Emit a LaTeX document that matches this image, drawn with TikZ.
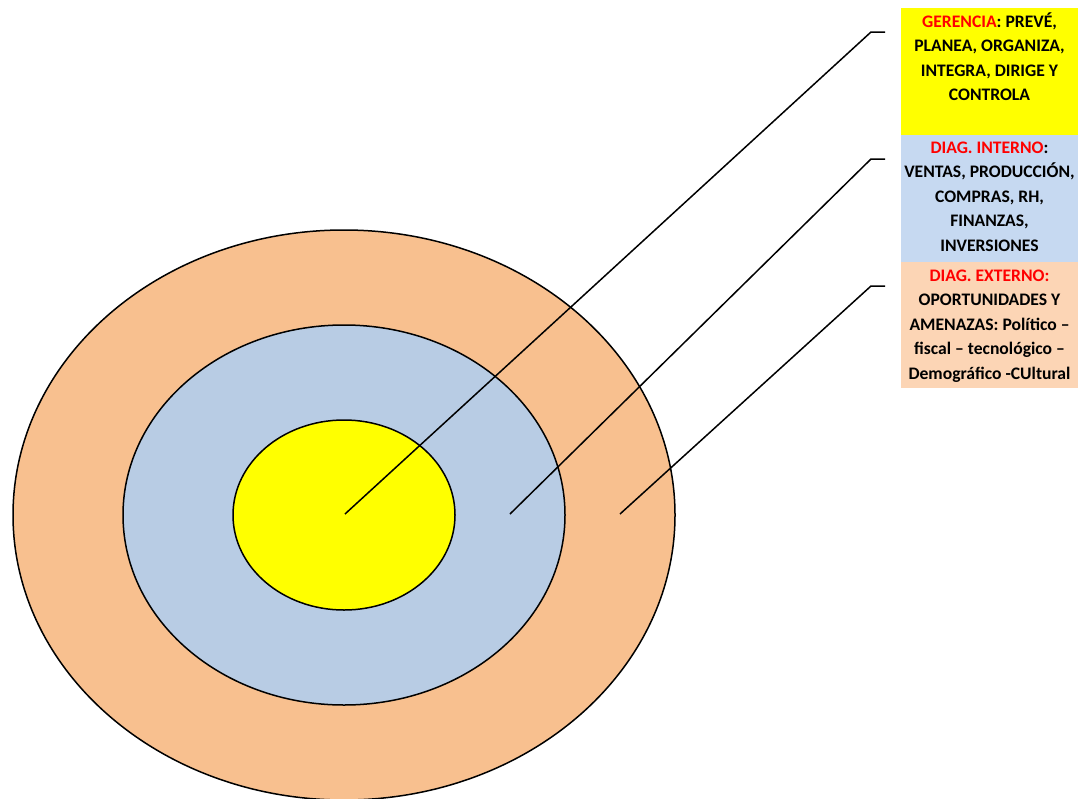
\documentclass[tikz,border=0pt]{standalone}
\usepackage{fontspec}
\setmainfont{Carlito}
\usetikzlibrary{shapes.geometric}
\definecolor{outerfill}{HTML}{F8C08F}
\definecolor{midfill}{HTML}{B8CCE4}
\definecolor{innerfill}{HTML}{FFFF00}
\definecolor{boxyellow}{HTML}{FFFF00}
\definecolor{boxblue}{HTML}{C6D9F1}
\definecolor{boxorange}{HTML}{FCD5B5}
\definecolor{hdred}{HTML}{FF0000}
\begin{document}
\begin{tikzpicture}[x=1pt,y=-1pt,
  ring/.style={ellipse, draw=black, line width=1.5pt, inner sep=0pt},
  conn/.style={draw=black, line width=1.5pt},
  infobox/.style={rectangle, inner sep=0pt, minimum width=177pt, anchor=north west},
  infotext/.style={anchor=base, inner sep=0pt, font=\bfseries\fontsize{17.6}{24.5}\selectfont}]
\useasboundingbox (0,0) rectangle (1091,798);
% rings
\node[ring, fill=outerfill, minimum width=662pt, minimum height=570pt] (outer) at (344,515) {};
\node[ring, fill=midfill, minimum width=442pt, minimum height=380pt] (middle) at (344,515) {};
\node[ring, fill=innerfill, minimum width=222pt, minimum height=190pt] (inner) at (344,515) {};
% boxes
\node[infobox, fill=boxyellow, minimum height=127.5pt] (gbox) at (901,7.5) {};
\node[infobox, fill=boxblue, minimum height=127pt] (ibox) at (901,135) {};
\node[infobox, fill=boxorange, minimum height=126pt] (ebox) at (901,262) {};
% texts
\node[infotext] (gtext) at (989.5,27) {\parbox[t]{177pt}{\centering
  \textcolor{hdred}{GERENCIA}: PREVÉ,\\ PLANEA, ORGANIZA,\\ INTEGRA, DIRIGE Y\\ CONTROLA}};
\node[infotext] (itext) at (989.5,153) {\parbox[t]{177pt}{\centering
  \textcolor{hdred}{DIAG. INTERNO}:\\ VENTAS, PRODUCCIÓN,\\ COMPRAS, RH,\\ FINANZAS,\\ INVERSIONES}};
\node[infotext] (etext) at (989.5,281) {\parbox[t]{177pt}{\centering
  \textcolor{hdred}{DIAG. EXTERNO:}\\ OPORTUNIDADES Y\\ AMENAZAS: Político –\\ fiscal – tecnológico –\\ Demográfico -CUltural}};
% connector points
\coordinate (c1) at (345,514);
\coordinate (k1) at (871,32);
\coordinate (t1) at (885,32);
\coordinate (c2) at (510,514);
\coordinate (k2) at (871,159);
\coordinate (t2) at (885,159);
\coordinate (c3) at (620,514);
\coordinate (k3) at (871,286);
\coordinate (t3) at (885,286);
\draw[conn] (c1) -- (k1) -- (t1);
\draw[conn] (c2) -- (k2) -- (t2);
\draw[conn] (c3) -- (k3) -- (t3);
\end{tikzpicture}
\end{document}
